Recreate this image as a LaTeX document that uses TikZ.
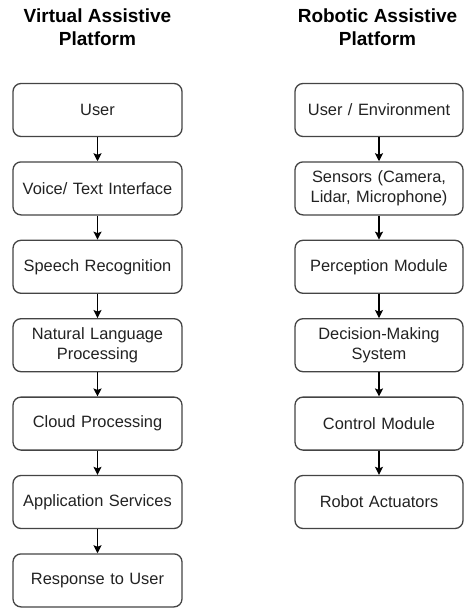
\documentclass[tikz,border=0pt]{standalone}
\usepackage{fontspec}
\setmainfont{Liberation Sans}
\usetikzlibrary{arrows.meta}
\definecolor{boxline}{HTML}{444444}
\definecolor{txt}{HTML}{222222}
\tikzset{
  stepbox/.style={draw=boxline, line width=1.3pt, rounded corners=8pt, fill=white,
    minimum height=53pt, align=center, inner sep=2pt, text=txt,
    font=\fontsize{16.4}{20.5}\selectfont},
  lbox/.style={stepbox, minimum width=169pt, text width=165pt},
  rbox/.style={stepbox, minimum width=168pt, text width=164pt},
  title/.style={align=center, font=\fontsize{19}{23}\selectfont\bfseries, text=black},
  flow/.style={draw=black, line width=1.3pt, -{Stealth[length=8pt,width=8pt,inset=1.5pt]}}
}
\begin{document}
\begin{tikzpicture}[x=1pt,y=-1pt]
\useasboundingbox (0,0) rectangle (464,608);
\node[title] (lt) at (97.5,27) {Virtual Assistive\\Platform};
\node[title] (rt) at (377.5,27) {Robotic Assistive\\Platform};

\node[lbox] (l1) at (97.5,110) {User};
\node[lbox] (l2) at (97.5,188.4) {Voice/ Text Interface};
\node[lbox] (l3) at (97.5,266.8) {Speech Recognition};
\node[lbox] (l4) at (97.5,345.2) {Natural Language\\Processing};
\node[lbox] (l5) at (97.5,423.6) {Cloud Processing};
\node[lbox] (l6) at (97.5,502) {Application Services};
\node[lbox] (l7) at (97.5,580.4) {Response to User};

\node[rbox] (r1) at (379,110) {User / Environment};
\node[rbox] (r2) at (379,188.4) {Sensors (Camera,\\Lidar, Microphone)};
\node[rbox] (r3) at (379,266.8) {Perception Module};
\node[rbox] (r4) at (379,345.2) {Decision-Making\\System};
\node[rbox] (r5) at (379,423.6) {Control Module};
\node[rbox] (r6) at (379,502) {Robot Actuators};

\foreach \a/\b in {l1/l2,l2/l3,l3/l4,l4/l5,l5/l6,l6/l7,r1/r2,r2/r3,r3/r4,r4/r5,r5/r6}
  \draw[flow] (\a.south) -- (\b.north);
\end{tikzpicture}
\end{document}
